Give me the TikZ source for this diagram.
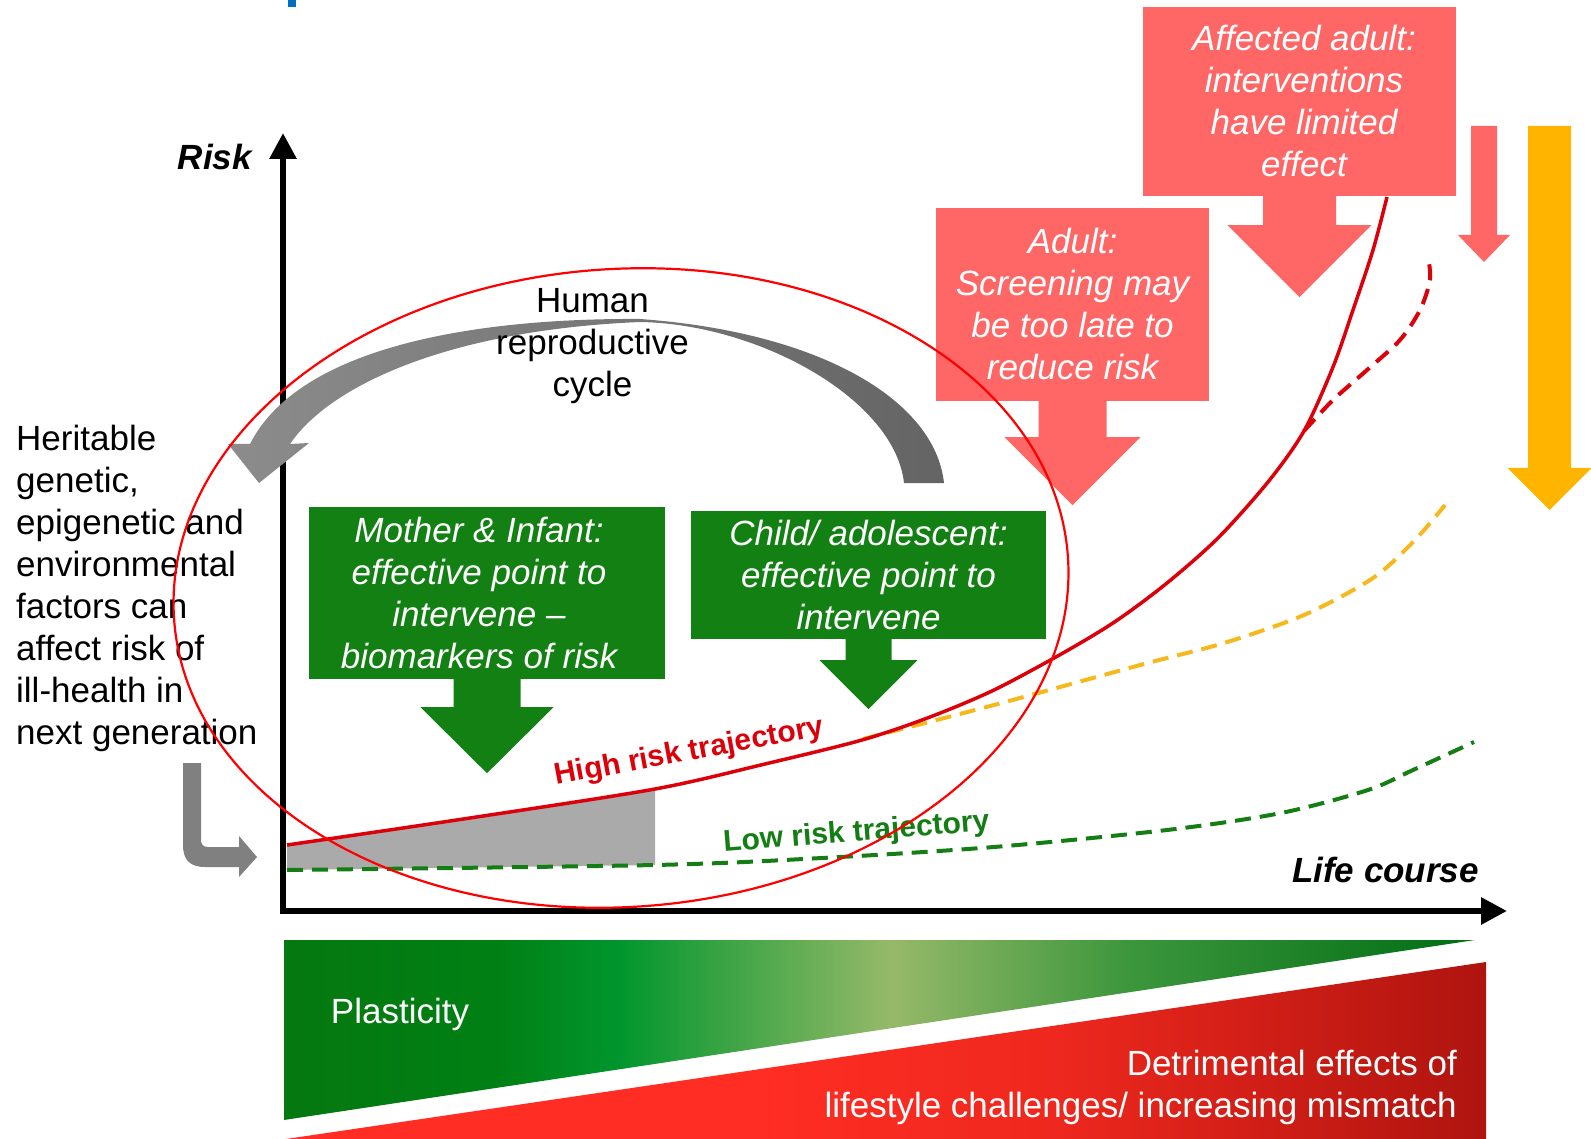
\documentclass[tikz,border=0pt]{standalone}
\usepackage{fontspec}
\setmainfont{Liberation Sans}
\usetikzlibrary{shapes,arrows.meta,backgrounds}

\definecolor{BoxGreen}{RGB}{18,128,18}
\definecolor{Salmon}{RGB}{255,102,102}
\definecolor{Amber}{RGB}{255,180,0}
\definecolor{RiskRed}{RGB}{220,0,10}
\definecolor{LowGreen}{RGB}{20,125,20}
\definecolor{MidYellow}{RGB}{245,185,30}
\definecolor{RingRed}{RGB}{255,0,0}
\definecolor{AreaGrey}{RGB}{170,170,170}
\definecolor{CycleLight}{RGB}{140,140,140}
\definecolor{CycleDark}{RGB}{100,100,100}
\definecolor{LGrey}{RGB}{128,128,128}
\definecolor{TitleBlue}{RGB}{0,112,192}
\definecolor{plA}{RGB}{5,120,15}
\definecolor{plB}{RGB}{0,128,20}
\definecolor{plC}{RGB}{0,150,45}
\definecolor{plD}{RGB}{150,185,105}
\definecolor{plE}{RGB}{60,150,60}
\definecolor{plF}{RGB}{0,110,20}
\definecolor{mmA}{RGB}{255,45,35}
\definecolor{mmB}{RGB}{238,40,30}
\definecolor{mmC}{RGB}{175,20,15}

\pgfdeclarehorizontalshading{plasticity}{100bp}{color(0bp)=(plA); color(25bp)=(plA); color(34bp)=(plB); color(39bp)=(plC); color(50.5bp)=(plD); color(60.5bp)=(plE); color(75bp)=(plF); color(100bp)=(plF)}
\pgfdeclarehorizontalshading{mismatch}{100bp}{color(0bp)=(mmA); color(25bp)=(mmA); color(45bp)=(mmA); color(57bp)=(mmB); color(75bp)=(mmC); color(100bp)=(mmC)}

\newcommand{\TextFont}{\fontsize{35}{42}\selectfont}
\newcommand{\BoxFont}{\fontsize{35}{42}\selectfont\itshape}
\newcommand{\AxisFont}{\fontsize{35}{42}\selectfont\bfseries\itshape}
\newcommand{\TrajFont}{\fontsize{30}{36}\selectfont\bfseries}

% block arrow pointing down: colour, top point, head start, tip, shaft half width, head half width
\newcommand{\blockdown}[6]{%
  \fill[#1, shift={(#2)}] (-#5,0) -- (-#5,#3) -- (-#6,#3) -- (0,#4) -- (#6,#3) -- (#5,#3) -- (#5,0) -- cycle;}

\begin{document}
\begin{tikzpicture}[x=1pt, y=-1pt]
	\tikzstyle{GreenBox} = [fill=BoxGreen, inner sep=0pt]
	\tikzstyle{RedBox}   = [fill=Salmon, inner sep=0pt]
	\tikzstyle{BoxText}  = [text=white, font=\BoxFont, align=center, inner sep=0pt]
	\tikzstyle{Plain}    = [font=\TextFont, inner sep=0pt]
	\tikzstyle{Dashed}   = [line width=4pt, dash pattern=on 16pt off 9pt]
	\tikzstyle{Axis}     = [line width=6pt, {Triangle[length=26pt,width=26pt]}-{Triangle[length=26pt,width=26pt]}]

	\useasboundingbox (0,0) rectangle (1591,1139);
	\fill[TitleBlue] (288,0) rectangle (296,7);

	% plasticity / mismatch bar
	\shade[shading=plasticity] (284,940) -- (1475,940) -- (284,1120) -- cycle;
	\shade[shading=mismatch] (286,1139) -- (1486,962) -- (1486,1139) -- cycle;
	\node (plast) at (400,1023) [Plain, anchor=base, text=white] {Plasticity};
	\node (detr) at (1457,1050) [Plain, anchor=north east, align=right, text=white] {Detrimental effects of\\lifestyle challenges/ increasing mismatch};

	% trajectories
	\fill[AreaGrey] (287,845) -- (655,789) -- (655,865) -- (287,870) -- cycle;
	\draw[LowGreen, Dashed] plot[smooth] coordinates {(287,870) (655,865) (822,858) (994,847) (1167,830) (1281,813) (1368,790) (1413,770) (1474,742)};
	\draw[MidYellow, Dashed] plot[smooth] coordinates {(863,739) (994,705) (1144,664) (1224,643) (1304,615) (1373,578) (1415,540) (1445,505)};
	\draw[RiskRed, Dashed] plot[smooth] coordinates {(1304,431) (1333,400) (1367,370) (1400,340) (1420,310) (1430,280) (1428,257)};
	\draw[RiskRed, line width=3.5pt] plot[smooth] coordinates {(287,845) (470,818) (655,789) (765,764) (862,740) (930,717) (994,690) (1063,653) (1116,621) (1167,583) (1218,538) (1268,482) (1304,431) (1333,367) (1353,310) (1373,250) (1387,197)};
	\node (high) at (691,760) [anchor=base, rotate=10.5, font=\TrajFont, text=RiskRed] {High risk trajectory};
	\node (low) at (857,841) [anchor=base, rotate=4.5, font=\TrajFont, text=LowGreen] {Low risk trajectory};

	% axes
	\draw[Axis] (283,133) -- (283,911) -- (1507,911);
	\node (risk) at (252,170) [anchor=base east, font=\AxisFont, inner sep=0pt] {Risk};
	\node (life) at (1479,882) [anchor=base east, font=\AxisFont, inner sep=0pt] {Life course};

	% life stages
	\node (mi) at (487,593) [GreenBox, minimum width=356, minimum height=172] {};
	\node (ca) at (868.5,575) [GreenBox, minimum width=355, minimum height=128] {};
	\node (ad) at (1072.5,304.5) [RedBox, minimum width=273, minimum height=193] {};
	\node (aa) at (1299.5,101.5) [RedBox, minimum width=313, minimum height=189] {};
	\node (mitext) at (479,593) [BoxText] {Mother \& Infant:\\effective point to\\intervene --\\biomarkers of risk};
	\node (catext) at (868.5,575) [BoxText] {Child/ adolescent:\\effective point to\\intervene};
	\node (adtext) at (1072.5,304) [BoxText] {Adult:\\Screening may\\be too late to\\reduce risk};
	\node (aatext) at (1304,101) [BoxText] {Affected adult:\\interventions\\have limited\\effect};
	\blockdown{BoxGreen}{mi.south}{28}{94}{33.5}{66.5}
	\blockdown{BoxGreen}{ca.south}{21}{70}{23}{49}
	\blockdown{Salmon}{ad.south}{36}{104}{34}{68}
	\blockdown{Salmon}{aa.south}{29}{101}{36.5}{72}
	\coordinate (small) at (1484,126);
	\coordinate (big) at (1549.5,126);
	\blockdown{Salmon}{small}{109}{136}{13}{26}
	\blockdown{Amber}{big}{342}{384}{21.5}{42}

	% reproductive cycle
	\shade[left color=CycleLight, right color=CycleDark]
		(944,483) .. controls (935,400) and (820,332) .. (640,319)
		.. controls (480,318) and (300,345) .. (250,444)
		-- (228,444) -- (259,483) -- (309,443) -- (290,444)
		.. controls (330,385) and (450,330) .. (640,322)
		.. controls (760,324) and (895,400) .. (904,483) -- cycle;
	\node (hrc) at (592.5,346) [Plain, align=center] {Human\\reproductive\\cycle};
	\node (hered) at (16,425) [Plain, anchor=north west, align=left] {Heritable\\genetic,\\epigenetic and\\environmental\\factors can\\affect risk of\\ill-health in\\next generation};
	\fill[LGrey] (183,763) -- (183,845) .. controls (183,860) and (190,867) .. (205,867) -- (239,867) -- (239,877) -- (257,857) -- (239,836) -- (239,847) -- (208,847) .. controls (203,847) and (201,844) .. (201,840) -- (201,763) -- cycle;

	\draw[RingRed, line width=2.2pt, rotate around={4:(621,588)}] (621,588) ellipse [x radius=448, y radius=319];
\end{tikzpicture}
\end{document}
